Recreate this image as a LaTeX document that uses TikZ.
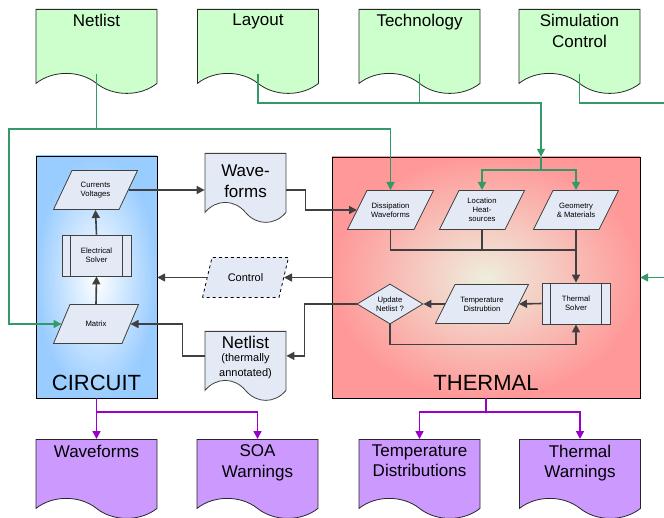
\documentclass[tikz,border=0pt]{standalone}
\usepackage{fontspec}
\setmainfont{Liberation Sans}
\usepackage{xcolor}
\definecolor{inGreen}{RGB}{204,255,204}
\definecolor{outPurple}{RGB}{204,153,255}
\definecolor{linkGreen}{RGB}{51,153,102}
\definecolor{linkPurple}{RGB}{153,0,204}
\definecolor{stepFill}{RGB}{228,234,245}
\definecolor{lineGray}{RGB}{64,64,64}
\definecolor{circuitBlue}{RGB}{153,204,255}
\definecolor{thermalRed}{RGB}{255,153,153}
\definecolor{thermalCore}{RGB}{238,238,221}
\usepackage{tikz}
\usetikzlibrary{
  arrows.meta,
  calc,
  shapes.geometric,
  shapes.symbols
}
\tikzset{
  flowdoc/.style={
    shape=tape,
    tape bend top=none,
    tape bend bottom=out and in,
    tape bend height=20pt,
    draw=black!85,
    line width=0.8pt,
    fill=#1,
    anchor=north,
    inner sep=0pt
  },
  indoc/.style={flowdoc=inGreen, minimum width=121pt, minimum height=84pt},
  outdoc/.style={flowdoc=outPurple, minimum width=121pt, minimum height=79pt},
  middoc/.style={flowdoc=stepFill, draw=lineGray, minimum width=81pt, minimum height=69pt},
  doclabel/.style={
    anchor=north,
    inner sep=5pt,
    align=center,
    font=\fontsize{17}{20.5}\selectfont
  },
  subsys/.style 2 args={
    draw=black,
    outer color=#1,
    inner color=#2,
    inner sep=0pt
  },
  sysname/.style={anchor=south, inner sep=7pt, font=\fontsize{22}{26}\selectfont},
  % parallelogram drawn inside a plain box, #1 is the slant
  datafill/.style={draw=lineGray, fill=stepFill, line width=0.8pt},
  datashape/.style={
    rectangle,
    minimum width=86pt,
    minimum height=40pt,
    inner sep=1pt,
    outer ysep=0pt,
    outer xsep={-#1/2},
    align=center,
    font=\fontsize{7.7}{9}\selectfont,
    path picture={
      \path[datafill]
        ([xshift=0.5pt, yshift=0.5pt]path picture bounding box.south west)
        -- ([xshift=#1, yshift=-0.5pt]path picture bounding box.north west)
        -- ([xshift=-0.5pt, yshift=-0.5pt]path picture bounding box.north east)
        -- ([xshift=-#1, yshift=0.5pt]path picture bounding box.south east)
        -- cycle;
    }
  },
  datashape/.default=20pt,
  procbox/.style={
    rectangle,
    draw=lineGray,
    fill=stepFill,
    line width=0.8pt,
    minimum width=68pt,
    minimum height=41pt,
    align=center,
    font=\fontsize{7.7}{9}\selectfont,
    path picture={
      \draw[lineGray, line width=0.8pt]
        ([xshift=8.5pt]path picture bounding box.north west)
        -- ([xshift=8.5pt]path picture bounding box.south west);
      \draw[lineGray, line width=0.8pt]
        ([xshift=-8.5pt]path picture bounding box.north east)
        -- ([xshift=-8.5pt]path picture bounding box.south east);
    }
  },
  decision/.style={
    diamond,
    aspect=1.65,
    draw=lineGray,
    fill=stepFill,
    line width=0.8pt,
    minimum width=66pt,
    minimum height=40pt,
    inner sep=0pt,
    align=center,
    font=\fontsize{7.7}{9}\selectfont
  },
  darrow/.style={-{Triangle[length=8pt,width=8pt]}, line width=1.6pt, lineGray},
  dline/.style={line width=1.6pt, lineGray},
  garrow/.style={-{Triangle[length=8pt,width=8pt]}, line width=1.6pt, linkGreen},
  gline/.style={line width=1.6pt, linkGreen},
  parrow/.style={-{Triangle[length=8pt,width=8pt]}, line width=1.6pt, linkPurple}
}
\begin{document}
\begin{tikzpicture}[x=1pt, y=-1pt]
  \useasboundingbox (0,0) rectangle (664,518);

  % input documents
  \node[indoc, label={[doclabel]north:Netlist}] (netlist) at (96.5,9) {};
  \node[indoc, label={[doclabel]north:Layout}] (layout) at (258,9) {};
  \node[indoc, label={[doclabel]north:Technology}] (technology) at (419.5,9) {};
  \node[indoc, label={[doclabel]north:Simulation\\Control}] (simctrl) at (579.5,9) {};

  % the two simulators
  \node[subsys={circuitBlue}{white}, minimum width=121pt, minimum height=242pt,
    label={[sysname]south:CIRCUIT}] (circuit) at (96.5,277) {};
  \node[subsys={thermalRed}{thermalCore}, minimum width=308pt, minimum height=241pt,
    label={[sysname]south:THERMAL}] (thermal) at (486,277.5) {};

  % circuit side
  \node[datashape=19pt, minimum width=85pt] (curvolt) at (95.5,190) {Currents\\Voltages};
  \node[procbox, minimum width=69pt] (elsolver) at (96.5,255.5) {Electrical\\Solver};
  \node[datashape=17pt] (matrix) at (96,324) {Matrix};

  % exchanged data
  \node[middoc, label={[doclabel, yshift=-7pt]north:Wave-\\forms}] (wavedoc) at (245.5,153) {};
  \node[datashape=10pt, minimum width=87pt, minimum height=41pt,
    datafill/.append style={dashed, draw=black},
    font=\fontsize{11}{13}\selectfont] (control) at (245.5,277.5) {Control};
  \node[middoc, label={[doclabel, font=\fontsize{11}{15.6}\selectfont]north:{\fontsize{17}{18}\selectfont Netlist}\\[-3pt](thermally\\annotated)}]
    (annot) at (245.5,331) {};

  % thermal side
  \node[datashape, minimum width=87pt] (dissip) at (390.5,210) {Dissipation\\Waveforms};
  \node[datashape] (location) at (482,210) {Location\\Heat-\\sources};
  \node[datashape] (geometry) at (576,210) {Geometry\\\& Materials};
  \node[procbox] (thsolver) at (576,303.5) {Thermal\\Solver};
  \node[datashape, minimum width=94pt] (tempdist) at (482,304) {Temperature\\Distrubtion};
  \node[decision] (update) at (390,304) {Update\\Netlist ?};

  % output documents
  \node[outdoc, label={[doclabel, inner sep=5.5pt]north:Waveforms}] (outwave) at (96.5,439) {};
  \node[outdoc, label={[doclabel, inner sep=5.5pt]north:SOA\\Warnings}] (soa) at (257.5,439) {};
  \node[outdoc, label={[doclabel, inner sep=5.5pt]north:Temperature\\Distributions}] (outtemp) at (419.5,439) {};
  \node[outdoc, label={[doclabel, inner sep=5.5pt]north:Thermal\\Warnings}] (thwarn) at (580,439) {};

  % inputs into the simulators
  \coordinate (nbend) at (9,129);
  \coordinate (ltbus) at (541,103);
  \coordinate (split) at (541,170);
  \draw[garrow] (netlist.south) |- (nbend) |- (matrix.west);
  \draw[garrow] (netlist.south |- nbend) -| (dissip.north);
  \draw[garrow] (layout.south) |- (ltbus) -- (ltbus |- thermal.north);
  \draw[gline] (technology.south) -- (technology.south |- ltbus);
  \draw[gline] (ltbus |- thermal.north) -- (split);
  \draw[garrow] (split) -| (location.north);
  \draw[garrow] (split) -| (geometry.north);
  \draw[garrow] (simctrl.south) |- (690,103) |- (thermal.east);

  % circuit flow
  \draw[darrow] (matrix.north) -- (elsolver.south);
  \draw[darrow] (elsolver.north) -- (curvolt.south);
  \draw[darrow] (curvolt.east) -- (curvolt.east -| wavedoc.west);
  \draw[darrow] (curvolt.east -| wavedoc.east) -- ++(19,0) |- (dissip.west);
  \draw[darrow] (thermal.west) -- (control.east);
  \draw[darrow] (control.west) -- (control.west -| circuit.east);
  \draw[darrow] (update.west) -- ++(-52,0) |- (annot.east);
  \draw[darrow] (annot.west) -- ++(-22,0) |- (matrix.east);

  % thermal flow
  \coordinate (join) at (576,250);
  \draw[dline] (dissip.south) |- (join);
  \draw[dline] (location.south) -- (location.south |- join);
  \draw[darrow] (geometry.south) -- (thsolver.north);
  \draw[darrow] (thsolver.west) -- (tempdist.east);
  \draw[darrow] (tempdist.west) -- (update.east);
  \draw[darrow] (update.south) -- ++(0,20) -| (thsolver.south);

  % results
  \draw[parrow] (circuit.south) -- (outwave.north);
  \draw[parrow] (circuit.south) -- ++(0,14) -| (soa.north);
  \draw[parrow] (thermal.south) -- ++(0,14) -| (outtemp.north);
  \draw[parrow] (thermal.south) -- ++(0,14) -| (thwarn.north);
\end{tikzpicture}
\end{document}
